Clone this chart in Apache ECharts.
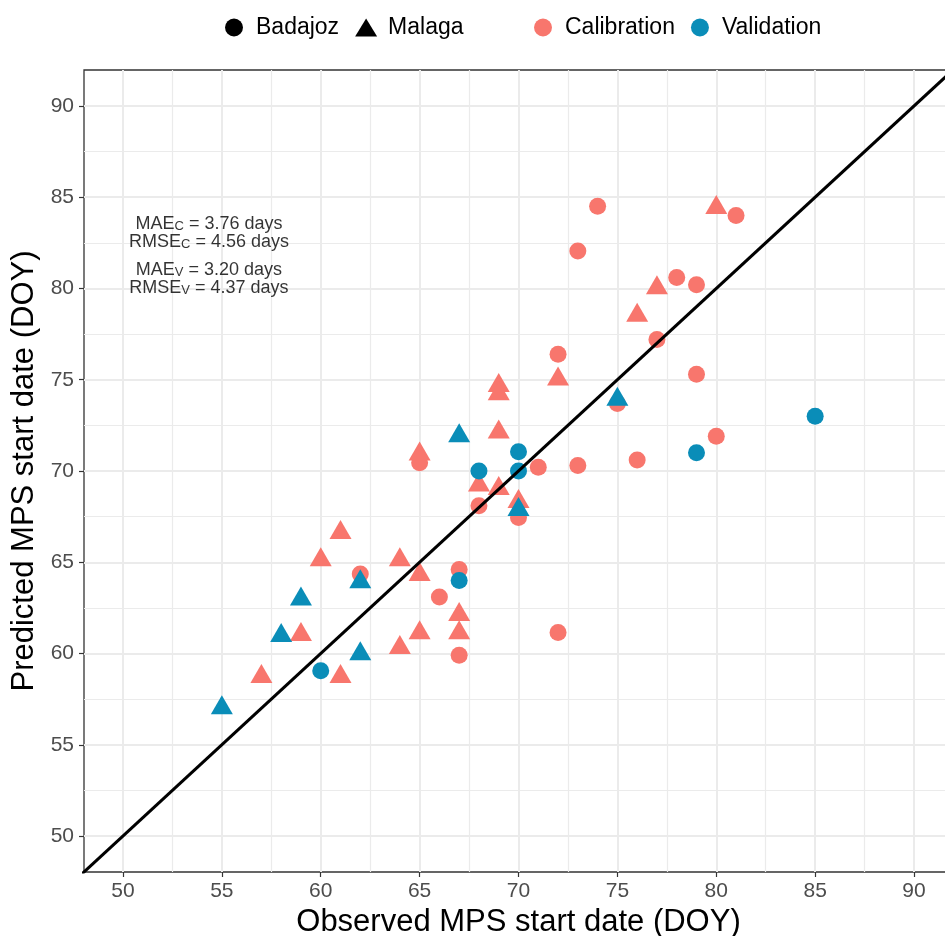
<!DOCTYPE html>
<html>
<head>
<meta charset="utf-8">
<script src="https://cdn.jsdelivr.net/npm/echarts@6/dist/echarts.min.js"></script>
<style>
  html, body { margin: 0; padding: 0; background: #fff; overflow: hidden; }
  #chart { width: 945px; height: 936px; }
</style>
</head>
<body>
<div id="chart"></div>
<script>
// [observed DOY, predicted DOY]
const badajozCal = [
  [74, 84.5], [81, 84.0], [73, 82.05], [78, 80.6], [79, 80.2], [77, 77.2], [72, 76.4],
  [79, 75.3], [75, 73.7], [80, 71.9], [65, 70.45], [71, 70.2], [73, 70.3], [76, 70.6],
  [68, 68.1], [70, 67.45], [66, 63.1], [67, 64.6], [67, 59.9], [62, 64.35], [72, 61.15]
];
const badajozVal = [
  [85, 73.0], [79, 71.0], [70, 71.05], [68, 70.0], [70, 70.0], [67, 64.0], [60, 59.05]
];
const malagaCal = [
  [80, 84.6], [77, 80.2], [76, 78.7], [72, 75.2], [69, 74.85], [69, 74.4], [69, 72.3],
  [65, 71.1], [68, 69.4], [69, 69.2], [70, 68.5], [61, 66.8], [60, 65.3], [64, 65.3],
  [65, 64.5], [67, 62.3], [67, 61.3], [59, 61.2], [65, 61.3], [64, 60.5], [57, 58.9], [61, 58.9]
];
const malagaVal = [
  [75, 74.1], [67, 72.1], [70, 68.05], [62, 64.1], [59, 63.15], [58, 61.15], [62, 60.15], [55, 57.2]
];
const identity = [40, 100];
const majorTicks = [50, 55, 60, 65, 70, 75, 80, 85, 90];
const minorTicks = [52.5, 57.5, 62.5, 67.5, 72.5, 77.5, 82.5, 87.5];
const axisMin = 48.03;
const axisMax = 91.97;
const statsC = { mae: '3.76', rmse: '4.56' };
const statsV = { mae: '3.20', rmse: '4.37' };

const FONT = '"Liberation Sans", Arial, sans-serif';
const CAL = '#F8766D';
const VAL = '#0A8DB8';

const chart = echarts.init(document.getElementById('chart'));

function valueAxis(isX, ticks, major) {
  const ax = {
    type: 'value',
    min: axisMin,
    max: axisMax,
    position: isX ? 'bottom' : 'left',
    axisLine: { show: false },
    axisTick: {
      show: major, length: 5, customValues: ticks,
      lineStyle: { color: '#333333', width: 1.2 }
    },
    axisLabel: {
      show: major, customValues: ticks, margin: isX ? 9 : 10,
      color: '#4D4D4D', fontSize: 21, fontFamily: FONT
    },
    splitLine: { show: true, lineStyle: { color: '#EBEBEB', width: major ? 2 : 1.2 } }
  };
  if (major) {
    ax.name = isX ? 'Observed MPS start date (DOY)' : 'Predicted MPS start date (DOY)';
    ax.nameLocation = 'middle';
    ax.nameGap = isX ? 33 : 40;
    ax.nameTextStyle = { fontSize: 31, color: '#000', fontFamily: FONT };
  }
  return ax;
}

const rich = {
  t: { fontSize: 18, lineHeight: 18, color: '#000', fontFamily: FONT },
  s: { fontSize: 13, lineHeight: 4, verticalAlign: 'bottom', color: '#000', fontFamily: FONT }
};

function statLabel(sub, s) {
  return '{t|MAE}{s|' + sub + '}{t| = ' + s.mae + ' days}\n' +
         '{t|RMSE}{s|' + sub + '}{t| = ' + s.rmse + ' days}';
}

function pts(data, name, symbol, color) {
  return {
    type: 'scatter', name: name, data: data,
    symbol: symbol,
    symbolSize: symbol === 'triangle' ? [22, 19] : 17,
    itemStyle: { color: color, opacity: 1 },
    xAxisIndex: 0, yAxisIndex: 0
  };
}

function legendOnly(name, symbol, color) {
  return { type: 'scatter', name: name, data: [], symbol: symbol, itemStyle: { color: color, opacity: 1 } };
}

const legendText = { fontSize: 23, color: '#000', fontFamily: FONT, padding: [0, 0, 0, 6] };

chart.setOption({
  animation: false,
  backgroundColor: '#fff',
  grid: {
    left: 84, top: 70, width: 869, height: 802,
    outerBoundsMode: 'none', containLabel: false,
    show: true, borderColor: '#333333', borderWidth: 1.3, backgroundColor: 'transparent'
  },
  legend: [
    {
      data: ['Badajoz', 'Malaga'],
      left: 220, top: 11, itemWidth: 22, itemHeight: 18, itemGap: 16,
      textStyle: legendText
    },
    {
      data: ['Calibration', 'Validation'],
      left: 529, top: 11, itemWidth: 22, itemHeight: 18, itemGap: 16,
      textStyle: legendText
    }
  ],
  xAxis: [valueAxis(true, majorTicks, true), valueAxis(true, minorTicks, false)],
  yAxis: [valueAxis(false, majorTicks, true), valueAxis(false, minorTicks, false)],
  series: [
    {
      type: 'line', data: identity.map(v => [v, v]),
      symbol: 'none', clip: true, silent: true,
      lineStyle: { color: '#000', width: 3 }
    },
    pts(badajozCal, 'Badajoz Calibration', 'circle', CAL),
    pts(malagaCal, 'Malaga Calibration', 'triangle', CAL),
    pts(badajozVal, 'Badajoz Validation', 'circle', VAL),
    pts(malagaVal, 'Malaga Validation', 'triangle', VAL),
    // legend-only entries
    legendOnly('Badajoz', 'circle', '#000'),
    legendOnly('Malaga', 'triangle', '#000'),
    legendOnly('Calibration', 'circle', CAL),
    legendOnly('Validation', 'circle', VAL),
    // error stats text
    {
      type: 'scatter', silent: true, symbolSize: 0,
      data: [
        { value: [54.35, 83.05], label: { formatter: statLabel('C', statsC) } },
        { value: [54.35, 80.5], label: { formatter: statLabel('V', statsV) } }
      ],
      label: { show: true, position: 'inside', align: 'center', rich: rich }
    }
  ]
});
</script>
</body>
</html>
